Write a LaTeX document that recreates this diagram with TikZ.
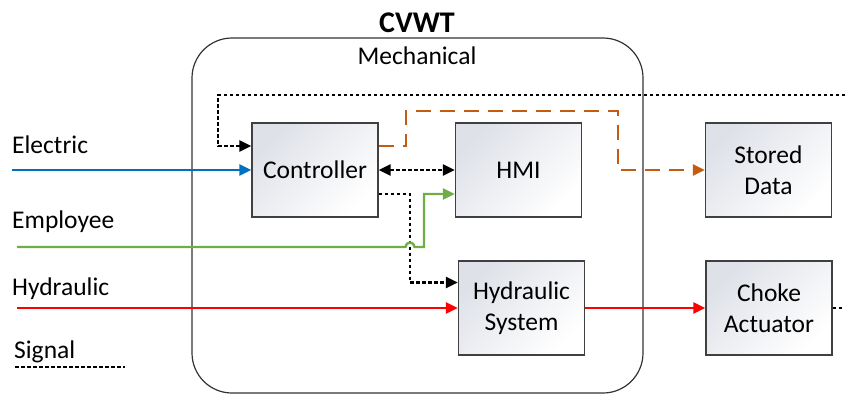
\documentclass[tikz,border=0pt]{standalone}
\usepackage{fontspec}
\setmainfont{Carlito}
\usetikzlibrary{arrows.meta}

\definecolor{elblue}{RGB}{0,112,192}
\definecolor{empgreen}{RGB}{112,173,71}
\definecolor{hydred}{RGB}{255,0,0}
\definecolor{datorange}{RGB}{197,90,17}
\definecolor{boxshade}{RGB}{222,225,232}

\begin{document}
\begin{tikzpicture}[x=1pt, y=-1pt, font=\fontsize{25.5}{31}\selectfont,
    block/.style={draw=black!75, line width=1.3pt, top color=boxshade,
        bottom color=white, shading angle=45, minimum width=126pt,
        minimum height=94pt, align=center, inner sep=2pt},
    lbl/.style={anchor=base west, inner sep=0pt},
    tip/.style={-{Triangle[length=12pt,width=11pt]}},
    power/.style={line width=2.4pt},
    sig/.style={line width=2.4pt, dash pattern=on 3.5pt off 2.5pt},
    datlink/.style={line width=2.2pt, datorange, dash pattern=on 15pt off 9pt}]

    \useasboundingbox (0,0) rectangle (845,394);

    % координаты
    \coordinate (elin) at (12,170);
    \coordinate (empin) at (17,247);
    \coordinate (hop) at (405.5,247);
    \coordinate (empbend) at (424,247);
    \coordinate (hydin) at (17,308);
    \coordinate (sigin) at (845,95);
    \coordinate (sigcorner) at (218,95);
    \coordinate (ctrlhyd) at (410,282.5);
    \coordinate (or1) at (406,111);
    \coordinate (or2) at (618,111);
    \coordinate (chokeout) at (845,308);
    \coordinate (legl) at (15,367);
    \coordinate (legr) at (125,367);

    % корпус CVWT
    \node[draw=black!80, line width=1.2pt, rounded corners=40pt,
        minimum width=451pt, minimum height=355pt] (mech) at (417.5,215.5) {};
    \node[anchor=base, font=\fontsize{30}{36}\selectfont\bfseries] (title) at (417,32) {CVWT};
    \node[anchor=base] (mechlbl) at (417,64) {Mechanical};

    % блоки
    \node[block] (ctrl) at (315,170) {Controller};
    \node[block] (hmi) at (518.5,170) {HMI};
    \node[block] (hyd) at (521.5,308) {Hydraulic\\System};
    \node[block] (stored) at (768.5,170) {Stored\\Data};
    \node[block] (choke) at (769,308) {Choke\\Actuator};

    % подписи слева
    \node[lbl] (ellbl) at (12,153) {Electric};
    \node[lbl] (emplbl) at (12,228) {Employee};
    \node[lbl] (hydlbl) at (12,295) {Hydraulic};
    \node[lbl] (siglbl) at (14,358) {Signal};

    % сигналы
    \draw[sig, tip] (sigin) -- (sigcorner) |- ([yshift=24pt]ctrl.west);
    \draw[sig, {Triangle[length=12pt,width=11pt]}-{Triangle[length=12pt,width=11pt]}] (ctrl) -- (hmi);
    \draw[sig, tip] ([yshift=-24pt]ctrl.east) -| (ctrlhyd) -- ([yshift=25.5pt]hyd.west);
    \draw[sig] (choke.east) -- (chokeout);
    \draw[sig] (legl) -- (legr);

    % электрика
    \draw[power, elblue, tip] (elin) -- (ctrl.west);

    % сотрудник (с переходом через сигнал)
    \draw[power, empgreen, tip] (empin) -- (hop)
        arc[start angle=180, end angle=0, radius=4.5pt] -- (empbend)
        |- ([yshift=-24pt]hmi.west);

    % гидравлика
    \draw[power, hydred, tip] (hydin) -- (hyd.west);
    \draw[power, hydred, tip] (hyd.east) -- (choke.west);

    % данные
    \draw[datlink, tip] ([yshift=24pt]ctrl.east) -| (or1) -- (or2) |- (stored.west);

\end{tikzpicture}
\end{document}
